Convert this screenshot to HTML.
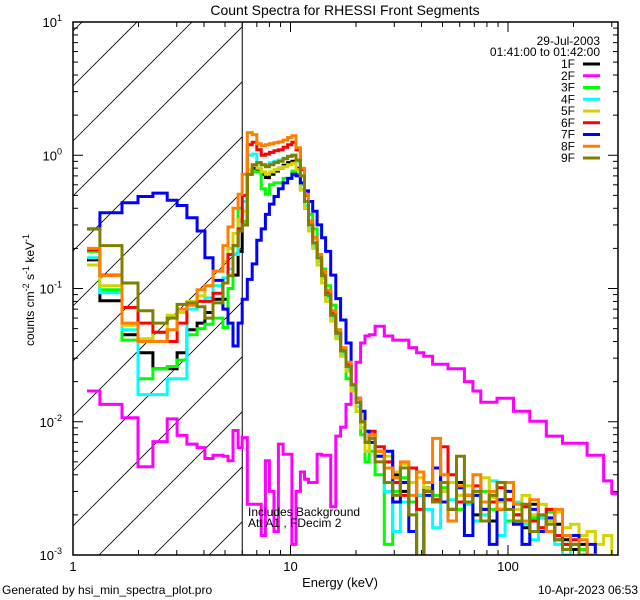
<!DOCTYPE html>
<html><head><meta charset="utf-8"><style>
html,body{margin:0;padding:0;background:#fff;width:640px;height:600px;overflow:hidden;}
svg{display:block;font-family:"Liberation Sans",sans-serif;}
</style></head><body>
<svg id="chart" width="640" height="600" viewBox="0 0 640 600">
<defs><clipPath id="plotclip"><rect x="73" y="22" width="545" height="533"/></clipPath>
<clipPath id="hatchclip"><rect x="73" y="22" width="169.5" height="533"/></clipPath></defs>
<rect x="0" y="0" width="640" height="600" fill="#fff"/>
<g id="hatch" clip-path="url(#hatchclip)"></g>
<line id="vline" stroke="#000" stroke-width="1"/>
<g id="series" clip-path="url(#plotclip)"></g>
<rect x="73" y="22" width="545" height="533" fill="none" stroke="#000" stroke-width="1.5"/>
<g id="ticks"></g>
<g id="labels" font-size="13"></g>
<text x="345" y="15" font-size="14" text-anchor="middle">Count Spectra for RHESSI Front Segments</text>
<text x="340" y="587" font-size="13" text-anchor="middle">Energy (keV)</text>
<text transform="translate(34,290) rotate(-90)" font-size="12" text-anchor="middle">counts cm<tspan dy="-5" font-size="9">-2</tspan><tspan dy="5"> s</tspan><tspan dy="-5" font-size="9">-1</tspan><tspan dy="5"> keV</tspan><tspan dy="-5" font-size="9">-1</tspan></text>
<text x="248" y="516" font-size="12">Includes Background</text>
<text x="248" y="527" font-size="12">Att A1 , FDecim  2</text>
<text x="2" y="594" font-size="12">Generated by hsi_min_spectra_plot.pro</text>
<text x="638" y="594" font-size="12" text-anchor="end">10-Apr-2023 06:53</text>
<text x="600" y="45" font-size="12" text-anchor="end">29-Jul-2003</text>
<text x="600" y="56" font-size="12" text-anchor="end">01:41:00 to 01:42:00</text>
<g id="legend" font-size="12"></g>
</svg>
<script>
const edges = [1.16,1.33,1.68,1.99,2.33,2.71,3.01,3.34,3.72,4.04,4.40,4.89,5.16,5.44,5.74,6.0,
6.33,6.67,7.0,7.33,7.67,8.0,8.4,8.8,9.25,9.7,10.15,10.6,11.1,11.6,12.1,12.65,13.25,13.9,14.5,15.3,16.15,17.0,18.0,19.0,20.0,21.0,22.0,23.0,
24.5,27,29.5,32,35,38,41,45,49,53,58,63,69,75,82,89,97,106,116,126,138,150,164,178,194,212,231,252,275,300,325];
const seriesNames = ["1F","2F","3F","4F","5F","6F","7F","8F","9F"];
const seriesColors = ["#000000","#ff00ff","#00ff00","#00ffff","#d4d400","#ff0000","#0000ff","#ff8000","#808000"];
const s1F = [0.164,0.081,0.045,0.033,0.025,0.025,0.033,0.049,0.055,0.066,0.083,0.083,0.1,0.126,0.19,
0.3,0.72,0.8,0.78,0.72,0.68,0.72,0.76,0.8,0.84,0.88,0.9,0.8,0.55,0.4,0.28,0.21,0.16,0.12,0.088,0.062,0.046,0.034,0.026,0.019,0.014,0.01,0.007,
0.008,0.006,0.0045,0.004,0.003,0.0035,0.0028,0.0032,0.0025,0.003,0.0022,0.0035,0.0028,0.002,0.0025,0.0018,0.0022,0.0026,0.002,0.0016,0.0024,0.0019,0.0015,0.0017,0.0013,0.0011,0.0012,0.0009,0.0008,0.0007,0.0007];
const s2F = [0.017,0.0135,0.0107,0.0046,0.0071,0.0105,0.0079,0.0068,0.0064,0.0053,0.0056,0.0055,0.0051,0.0086,0.0064,
0.0076,0.0024,0.0024,0.0024,0.0014,0.0051,0.003,0.0015,0.0068,0.0057,0.0057,0.0012,0.003,0.0042,0.0037,0.0035,0.0035,0.0057,0.0056,0.0056,0.0023,0.0078,0.0091,0.0135,0.017,0.028,0.039,0.044,
0.045,0.052,0.044,0.041,0.041,0.036,0.033,0.031,0.027,0.027,0.025,0.025,0.02,0.017,0.014,0.014,0.015,0.015,0.012,0.012,0.0101,0.0101,0.0078,0.0078,0.0069,0.0069,0.0069,0.0056,0.0056,0.0036,0.0029];
const s3F = [0.19,0.098,0.041,0.021,0.025,0.026,0.029,0.045,0.05,0.054,0.06,0.051,0.1,0.18,0.4,
0.32,0.72,0.75,0.75,0.56,0.51,0.6,0.62,0.62,0.67,0.67,0.76,0.72,0.6,0.45,0.36,0.28,0.18,0.14,0.105,0.075,0.049,0.033,0.021,0.018,0.012,0.008,0.005,
0.006,0.004,0.0012,0.003,0.0038,0.0025,0.0009,0.003,0.0028,0.0032,0.0035,0.0022,0.0025,0.0028,0.003,0.0022,0.0026,0.0018,0.002,0.0023,0.0019,0.0016,0.0021,0.0014,0.0012,0.0009,0.0011,0.0008,0.0007,0.0007,0.0006];
const s4F = [0.17,0.093,0.049,0.016,0.016,0.021,0.021,0.07,0.08,0.085,0.105,0.12,0.14,0.18,0.32,
0.45,1.0,1.02,0.88,0.85,0.85,0.88,0.9,0.92,0.95,0.98,1.0,0.9,0.62,0.42,0.28,0.21,0.16,0.12,0.085,0.06,0.044,0.032,0.025,0.018,0.013,0.009,0.006,
0.007,0.0055,0.003,0.0015,0.0025,0.0035,0.0028,0.0022,0.0016,0.003,0.0026,0.0032,0.0024,0.0018,0.002,0.0036,0.0014,0.0022,0.0025,0.0017,0.0013,0.0019,0.0015,0.0012,0.001,0.0014,0.0009,0.0008,0.0007,0.0006,0.0006];
const s5F = [0.15,0.105,0.053,0.042,0.047,0.063,0.066,0.08,0.088,0.105,0.135,0.16,0.2,0.26,0.33,
0.38,0.78,0.85,0.8,0.75,0.72,0.75,0.78,0.8,0.82,0.85,0.87,0.78,0.55,0.4,0.27,0.2,0.15,0.11,0.08,0.057,0.042,0.031,0.024,0.017,0.012,0.009,0.006,
0.008,0.006,0.0055,0.0042,0.0048,0.0035,0.0038,0.0032,0.0045,0.003,0.0035,0.0028,0.0033,0.003,0.0038,0.0027,0.0025,0.003,0.0022,0.0028,0.002,0.0024,0.0018,0.0021,0.0016,0.0017,0.0014,0.0015,0.0012,0.0014,0.0009];
const s6F = [0.195,0.126,0.072,0.055,0.047,0.04,0.055,0.075,0.08,0.08,0.092,0.11,0.18,0.21,0.28,
0.5,1.2,1.25,1.1,1.0,1.02,1.05,1.08,1.1,1.15,1.2,1.25,1.1,0.78,0.5,0.32,0.24,0.18,0.13,0.095,0.066,0.048,0.035,0.027,0.019,0.014,0.01,0.007,
0.0085,0.0065,0.005,0.0035,0.0028,0.0045,0.0022,0.003,0.0026,0.0065,0.004,0.0025,0.0028,0.0033,0.0022,0.0025,0.0032,0.0026,0.002,0.0023,0.0018,0.0016,0.0022,0.0014,0.0012,0.0013,0.001,0.0009,0.0008,0.0008,0.0007];
const s7F = [0.28,0.37,0.44,0.49,0.52,0.46,0.42,0.34,0.27,0.17,0.115,0.07,0.055,0.037,0.055,
0.083,0.117,0.153,0.23,0.28,0.36,0.43,0.49,0.56,0.62,0.67,0.72,0.7,0.62,0.54,0.45,0.38,0.3,0.24,0.19,0.126,0.084,0.058,0.039,0.019,0.015,0.012,0.0085,
0.007,0.0055,0.006,0.0025,0.0035,0.0015,0.0008,0.0028,0.0045,0.0025,0.0018,0.0032,0.0014,0.0028,0.0022,0.0012,0.0026,0.003,0.0017,0.0012,0.0022,0.0015,0.0019,0.0013,0.0011,0.0014,0.0009,0.0012,0.0008,0.0008,0.0007];
const s8F = [0.2,0.125,0.055,0.04,0.04,0.049,0.07,0.075,0.098,0.105,0.135,0.21,0.29,0.4,0.51,
0.72,1.48,1.43,1.22,1.18,1.2,1.22,1.24,1.26,1.3,1.36,1.4,1.14,0.8,0.51,0.32,0.24,0.18,0.135,0.097,0.068,0.049,0.036,0.028,0.019,0.015,0.01,0.007,
0.008,0.006,0.0045,0.0038,0.005,0.0028,0.0042,0.0035,0.0075,0.004,0.0018,0.0033,0.0028,0.004,0.0025,0.003,0.0022,0.0035,0.0024,0.0018,0.0026,0.002,0.0015,0.0022,0.0014,0.0012,0.0013,0.001,0.0009,0.0008,0.0007];
const s9F = [0.28,0.21,0.11,0.068,0.055,0.06,0.076,0.078,0.073,0.06,0.078,0.11,0.125,0.21,0.27,
0.3,0.72,0.85,0.88,0.85,0.82,0.85,0.88,0.9,0.94,0.98,1.0,0.92,0.7,0.45,0.3,0.22,0.17,0.125,0.09,0.063,0.046,0.034,0.026,0.019,0.014,0.01,0.007,
0.0075,0.005,0.0035,0.0028,0.0045,0.002,0.0008,0.003,0.0025,0.0035,0.0022,0.0055,0.0025,0.003,0.0018,0.0028,0.0035,0.0022,0.0018,0.0024,0.0015,0.002,0.0017,0.0013,0.0011,0.0012,0.001,0.0009,0.0008,0.0007,0.0007];
const seriesValues = [s1F,s2F,s3F,s4F,s5F,s6F,s7F,s8F,s9F];
const xTickLabels = ["1","10","100"];
const yTickExps = ["-3","-2","-1","0","1"];
const thresholdEnergy = 6.0;

const NS = "http://www.w3.org/2000/svg";
const X0 = 73, X1 = 618, Y0 = 22, Y1 = 555;
const xDec = 217.5, yDec = (Y1 - Y0) / 4;
function xs(e){ return X0 + xDec * Math.log10(e); }
function ys(v){ v = Math.max(v, 1e-5); return Y0 + (1 - Math.log10(v)) * yDec; }
function mk(tag, attrs, parent){ const el = document.createElementNS(NS, tag); for (const k in attrs) el.setAttribute(k, attrs[k]); parent.appendChild(el); return el; }

const hatch = document.getElementById('hatch');
for (let k = -2; k < 14; k++) {
  const c = 86 + 55 * k;
  const ln = mk('line', {x1: X0, y1: c, x2: X0 + 600, y2: c - 600, stroke: '#000', 'stroke-width': 0.8}, hatch);
  
  
}
const vl = document.getElementById('vline');
vl.setAttribute('x1', xs(thresholdEnergy)); vl.setAttribute('x2', xs(thresholdEnergy));
vl.setAttribute('y1', Y0); vl.setAttribute('y2', Y1);

const sg = document.getElementById('series');
seriesValues.forEach((vals, si) => {
  let d = '';
  for (let i = 0; i < vals.length; i++) {
    const xa = xs(edges[i]).toFixed(1), xb = xs(edges[i+1]).toFixed(1), y = ys(vals[i]).toFixed(1);
    d += (i === 0 ? 'M' : 'L') + xa + ',' + y + 'L' + xb + ',' + y;
  }
  const p = mk('path', {d: d, fill: 'none', stroke: seriesColors[si], 'stroke-width': 3, 'stroke-linejoin': 'miter'}, sg);
  
  
});

const lg = document.getElementById('legend');
seriesNames.forEach((n, i) => {
  const y = 64 + i * 11.75;
  const t = mk('text', {x: 575, y: y + 4, 'text-anchor': 'end'}, lg);
  t.textContent = n;
  
  
  const l = mk('line', {x1: 583, x2: 600, y1: y, y2: y, stroke: seriesColors[i], 'stroke-width': 3}, lg);
  
  
});

const tg = document.getElementById('ticks');
for (let dec = 0; dec < 3; dec++) {
  for (let m = 1; m <= 9; m++) {
    const e = Math.pow(10, dec) * m; const x = xs(e);
    if (x > X1) break;
    const len = m === 1 ? 10 : 5;
    const a = mk('line', {x1: x, x2: x, y1: Y1, y2: Y1 - len, stroke: '#000', 'stroke-width': 1}, tg);
    
    
    const b = mk('line', {x1: x, x2: x, y1: Y0, y2: Y0 + len, stroke: '#000', 'stroke-width': 1}, tg);
    
    
  }
}
for (let dec = -3; dec <= 1; dec++) {
  for (let m = 1; m <= 9; m++) {
    if (dec === 1 && m > 1) break;
    const y = ys(Math.pow(10, dec) * m);
    const len = m === 1 ? 10 : 5;
    const a = mk('line', {x1: X0, x2: X0 + len, y1: y, y2: y, stroke: '#000', 'stroke-width': 1}, tg);
    
    
    const b = mk('line', {x1: X1, x2: X1 - len, y1: y, y2: y, stroke: '#000', 'stroke-width': 1}, tg);
    
    
  }
}
const lbl = document.getElementById('labels');
xTickLabels.forEach((s, i) => {
  const t = mk('text', {x: xs(Math.pow(10, i)), y: 571, 'text-anchor': 'middle'}, lbl);
  t.textContent = s;
  
  
});
yTickExps.forEach((s) => {
  const y = ys(Math.pow(10, parseInt(s)));
  const t = mk('text', {x: 62, y: y + 5, 'text-anchor': 'end'}, lbl);
  
  
  const a = document.createElementNS(NS, 'tspan'); a.textContent = '10'; t.appendChild(a);
  const b = document.createElementNS(NS, 'tspan'); b.setAttribute('dy', '-6'); b.setAttribute('font-size', '9'); b.textContent = s; t.appendChild(b);
});
</script>
</body></html>
